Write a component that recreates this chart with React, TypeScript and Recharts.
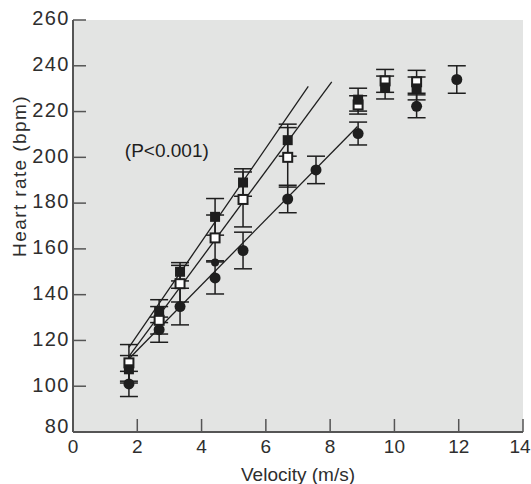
import React from 'react';
import {
  ScatterChart,
  Scatter,
  XAxis,
  YAxis,
  CartesianGrid,
  ErrorBar,
  ReferenceDot,
} from 'recharts';

// velocities (m/s) for the two square groups
const squareVelocity = [1.74, 2.68, 3.33, 4.42, 5.29, 6.68, 8.87, 9.71, 10.69];
const filledSquareHR = [107.4, 132.8, 150, 174, 189, 207.5, 225.2, 230.5, 230.1];
const filledSquareErr = [6, 5, 4, 8, 6, 7, 5, 5, 5];
const openSquareHR = [110.2, 128.8, 144.8, 164.8, 181.6, 200, 222.9, 233.4, 233];
const openSquareErr = [8, 6, 8, 10, 12, 13, 4, 5, 5];

// filled circle group
const circleVelocity = [1.74, 2.68, 3.33, 4.42, 5.29, 6.68, 7.56, 8.87, 10.69, 11.94];
const circleHR = [101, 124.7, 134.8, 147.3, 159.3, 181.8, 194.5, 210.4, 222.3, 234];
const circleErr = [5.5, 5.5, 8, 7, 8, 6, 6, 5, 5, 6];

// small extra dot
const extraVelocity = [4.42];
const extraHR = [154];

// regression line end points
const fitFilledSquare = [{ x: 1.74, y: 117 }, { x: 7.32, y: 231 }];
const fitOpenSquare = [{ x: 1.74, y: 113 }, { x: 8.05, y: 233 }];
const fitCircle = [{ x: 1.74, y: 112 }, { x: 8.85, y: 213.5 }];

const xTicks = [0, 2, 4, 6, 8, 10, 12, 14];
const yTicks = [80, 100, 120, 140, 160, 180, 200, 220, 240, 260];

const FONT = '"Liberation Sans", Arial, Helvetica, sans-serif';
const INK = '#1e1e1e';
const AXIS = '#555';
const TEXT = '#2e2e2e';

const toPoints = (xs: number[], ys: number[], es?: number[]) =>
  xs.map((x, i) => ({ x, y: ys[i], err: es ? es[i] : 0 }));

const filledSquares = toPoints(squareVelocity, filledSquareHR, filledSquareErr);
const openSquares = toPoints(squareVelocity, openSquareHR, openSquareErr);
const circles = toPoints(circleVelocity, circleHR, circleErr);
const extra = toPoints(extraVelocity, extraHR);

const FilledSquare = (props: any) => (
  <rect x={props.cx - 5} y={props.cy - 5} width={10} height={10} fill={INK} />
);
const OpenSquare = (props: any) => (
  <rect x={props.cx - 4.5} y={props.cy - 4.5} width={9} height={9} fill="#fff" stroke={INK} strokeWidth={2} />
);
const Dot = (props: any) => <circle cx={props.cx} cy={props.cy} r={5.5} fill={INK} />;
const SmallDot = (props: any) => <circle cx={props.cx} cy={props.cy} r={4} fill={INK} />;
const Nothing = () => <g />;

const XTick = (props: any) => {
  const { x, y, payload } = props;
  const tx = payload.value === 14 ? x - 3 : x;
  return (
    <g>
      <line x1={x} x2={x} y1={y} y2={y - 13} stroke={AXIS} strokeWidth={1.5} />
      <text x={tx} y={y + 16} textAnchor="middle" dominantBaseline="middle" fontSize={19} fontFamily={FONT} fill={TEXT}>
        {payload.value}
      </text>
    </g>
  );
};

const YTick = (props: any) => {
  const { x, y, payload } = props;
  const ty = payload.value === 80 ? y - 4 : y;
  return (
    <g>
      <line x1={x} x2={x + 13} y1={y} y2={y} stroke={AXIS} strokeWidth={1.5} />
      <text
        x={x - 3}
        y={ty}
        textAnchor="end"
        dominantBaseline="middle"
        fontSize={20}
        letterSpacing={1.5}
        fontFamily={FONT}
        fill={TEXT}
      >
        {payload.value}
      </text>
    </g>
  );
};

const YLabel = (props: any) => {
  const { viewBox } = props;
  const cx = viewBox.x + 21;
  const cy = viewBox.y + viewBox.height / 2 - 50;
  return (
    <text
      x={cx}
      y={cy}
      transform={`rotate(-90, ${cx}, ${cy})`}
      textAnchor="middle"
      dominantBaseline="middle"
      fontSize={19}
      letterSpacing={1.4}
      fontFamily={FONT}
      fill={TEXT}
    >
      Heart rate (bpm)
    </text>
  );
};

export default function App() {
  const lineStyle = { stroke: INK, strokeWidth: 1.3 };
  return (
    <div style={{ position: 'absolute', left: 0, top: 0, background: '#fff' }}>
      <ScatterChart width={531} height={484} margin={{ top: 20, right: 8, bottom: 0, left: 0 }}>
        <CartesianGrid horizontal={false} vertical={false} fill="#e3e4e3" />
        <XAxis
          type="number"
          dataKey="x"
          domain={[0, 14]}
          ticks={xTicks}
          height={52}
          tickSize={0}
          tickMargin={0}
          tick={<XTick />}
          axisLine={{ stroke: AXIS, strokeWidth: 2 }}
          tickLine={false}
          label={{ value: 'Velocity (m/s)', position: 'insideBottom', offset: 3, fontSize: 19, fontFamily: FONT, fill: TEXT }}
        />
        <YAxis
          type="number"
          dataKey="y"
          domain={[80, 260]}
          ticks={yTicks}
          width={73}
          tickSize={0}
          tickMargin={0}
          tick={<YTick />}
          axisLine={{ stroke: AXIS, strokeWidth: 2 }}
          tickLine={false}
          label={<YLabel />}
        />
        <Scatter data={fitCircle} line={lineStyle} shape={<Nothing />} isAnimationActive={false} />
        <Scatter data={fitOpenSquare} line={lineStyle} shape={<Nothing />} isAnimationActive={false} />
        <Scatter data={fitFilledSquare} line={lineStyle} shape={<Nothing />} isAnimationActive={false} />
        <Scatter data={circles} shape={<Dot />} isAnimationActive={false}>
          <ErrorBar dataKey="err" direction="y" width={9} strokeWidth={1.5} stroke={INK} />
        </Scatter>
        <Scatter data={extra} shape={<SmallDot />} isAnimationActive={false} />
        <Scatter data={openSquares} shape={<OpenSquare />} isAnimationActive={false}>
          <ErrorBar dataKey="err" direction="y" width={9} strokeWidth={1.5} stroke={INK} />
        </Scatter>
        <Scatter data={filledSquares} shape={<FilledSquare />} isAnimationActive={false}>
          <ErrorBar dataKey="err" direction="y" width={9} strokeWidth={1.5} stroke={INK} />
        </Scatter>
        <ReferenceDot
          x={2.92}
          y={203}
          r={0}
          fill="none"
          stroke="none"
          label={{ value: '(P<0.001)', position: 'center', fontSize: 19, fontFamily: FONT, fill: INK }}
        />
      </ScatterChart>
    </div>
  );
}
